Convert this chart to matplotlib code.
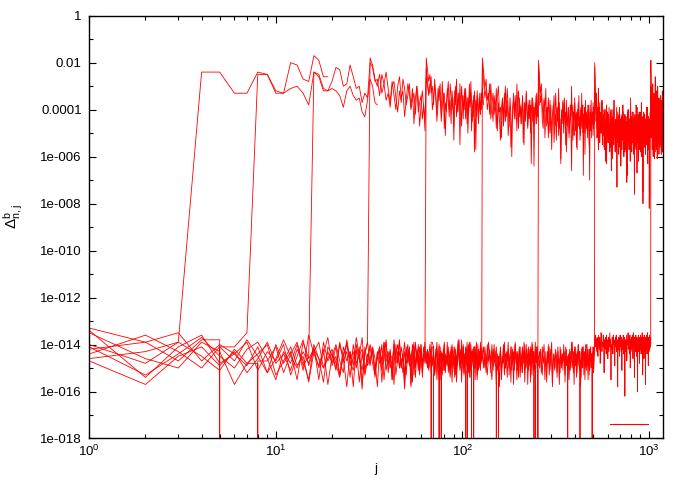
import numpy as np
import matplotlib
matplotlib.use('Agg')
import matplotlib.pyplot as plt
from matplotlib.lines import Line2D
from matplotlib.ticker import FixedLocator, FixedFormatter, NullFormatter

plt.rcParams['font.family'] = ['Liberation Sans', 'DejaVu Sans']
plt.rcParams['mathtext.fontset'] = 'custom'
plt.rcParams['mathtext.rm'] = 'Liberation Sans'
plt.rcParams['mathtext.it'] = 'Liberation Sans:italic'
plt.rcParams['mathtext.bf'] = 'Liberation Sans:bold'

# ---------------- data ----------------
# j sampling grid: (start, stop_exclusive, step)
J_SEGMENTS = [(1, 128, 1), (128, 256, 2), (256, 512, 3), (512, 1024, 3), (1024, 1191, 3)]
LEVELS = [2, 3, 4, 5, 6, 7, 8, 9, 10]          # series n: jump at j = 2**n
HIGH_END = [19, 35, 67, 131, 259, 515, 1027, 1190, 1190]
ZERO = 1000                                     # code for a numerically zero value

# values stored as tenths of -log10(value)
LOW_2 = [140, 148, 139]
LOW_3 = [133, 139, 147, 138, 1000, 141, 135]
LOW_4 = [135, 146, 150, 139, 143, 157, 148, 1000, 147, 141, 152, 144, 139, 149, 145]
LOW_5 = [141, 153, 144, 137, 145, 150, 142, 139, 146, 155,
         143, 148, 140, 151, 136, 144, 149, 142, 157, 145,
         140, 147, 152, 138, 146, 143, 150, 141, 156, 144,
         139]
LOW_6 = [142, 139, 135, 147, 140, 144, 149, 141, 152, 146,
         138, 145, 150, 143, 148, 141, 155, 139, 147, 144,
         151, 140, 146, 158, 143, 149, 137, 145, 142, 153,
         147, 140, 144, 150, 146, 141, 156, 143, 139, 148,
         145, 152, 138, 147, 143, 150, 141, 146, 159, 144,
         140, 149, 145, 142, 153, 139, 147, 144, 151, 143,
         148, 141, 146]
LOW_7 = [134, 154, 141, 136, 148, 144, 139, 151, 143, 147,
         140, 153, 145, 138, 149, 142, 146, 156, 141, 144,
         150, 139, 147, 143, 154, 140, 148, 145, 137, 152,
         144, 149, 141, 146, 158, 142, 147, 139, 151, 145,
         143, 155, 140, 148, 146, 138, 150, 144, 153, 141,
         147, 142, 157, 145, 139, 149, 143, 151, 146, 140,
         154, 144, 148,
         145, 150, 143, 147, 1000, 139, 141, 152, 146, 139,
         148, 155, 143, 149, 144, 151, 142, 150, 147, 146,
         141, 147, 153, 144, 140, 149, 145, 151, 143, 156,
         147, 142, 138, 145, 150, 143, 148, 141, 146, 152,
         1000, 144, 139, 147, 142, 154, 145, 140, 149, 143,
         146, 151, 141, 148, 144, 139, 153, 145, 142, 147,
         150, 143, 146, 141]
LOW_8 = [144, 136, 143, 150, 141, 147, 138, 145, 152, 140,
         148, 143, 155, 139, 146, 142, 150, 144, 137, 149,
         145, 153, 141, 147, 143, 158, 140, 146, 151, 144,
         139, 148, 142, 154, 145, 141, 149, 147, 138, 152,
         144, 146, 157, 140, 148, 143, 150, 145, 139, 153,
         142, 147, 144, 156, 141, 149, 146, 140, 151, 143,
         148, 145, 139,
         147, 142, 150, 144, 148, 141, 1000, 153, 146, 143,
         149, 140, 155, 145, 147, 142, 151, 144, 148, 139,
         152, 146, 143, 150, 145, 141, 149, 154, 144, 147,
         143, 138, 146, 151, 142, 148, 145, 140, 153, 147,
         144, 149, 141, 146, 152, 139, 145, 150, 1000, 143,
         148, 142, 147, 155, 144, 140, 149, 146, 151, 143,
         145, 139, 148, 144,
         146, 141, 150, 144, 148, 139, 145, 152, 143, 147,
         140, 149, 1000, 144, 151, 146, 142, 155, 145, 148,
         141, 150, 143, 147, 139, 153, 144, 146, 149, 142,
         157, 145, 140, 148, 143, 151, 146, 141, 154, 144,
         149, 142, 147, 139, 152, 145, 143, 150, 146, 141,
         148, 144, 156, 142, 147, 140, 151, 145, 149, 1000,
         143, 147, 141, 146]
LOW_9 = [146, 143, 139, 145, 151, 142, 148, 144, 140, 153,
         147, 141, 149, 145, 156, 143, 139, 150, 146, 142,
         148, 154, 144, 140, 147, 151, 143, 145, 159, 141,
         149, 146, 142, 152, 144, 148, 140, 155, 145, 143,
         150, 147, 141, 153, 146, 139, 149, 144, 157, 142,
         148, 145, 151, 140, 146, 154, 143, 149, 141, 147,
         152, 144, 146,
         143, 149, 145, 140, 152, 147, 144, 150, 142, 155,
         146, 1000, 141, 148, 153, 144, 139, 150, 145, 147,
         143, 151, 146, 142, 156, 148, 144, 141, 153, 145,
         149, 140, 147, 143, 150, 138, 146, 152, 144, 148,
         141, 145, 1000, 151, 143, 147, 139, 154, 146, 142,
         149, 144, 150, 141, 147, 145, 153, 140, 148, 143,
         146, 151, 142, 147,
         144, 150, 141, 147, 153, 145, 142, 148, 140, 151,
         146, 143, 157, 145, 1000, 149, 141, 152, 147, 144,
         139, 150, 146, 154, 143, 148, 145, 141, 151, 146,
         143, 149, 140, 147, 155, 144, 150, 142, 146, 152,
         145, 141, 148, 143, 156, 147, 140, 149, 144, 151,
         142, 146, 153, 145, 139, 148, 143, 1000, 150, 144,
         147, 141, 152, 145,
         145, 150, 142, 147, 153, 144, 140, 149, 146, 156,
         143, 148, 141, 151, 145, 139, 154, 147, 144, 150,
         142, 146, 152, 143, 148, 157, 141, 145, 149, 144,
         151, 140, 147, 153, 146, 142, 149, 1000, 145, 155,
         148, 143, 150, 144, 139, 147, 152, 145, 141, 149,
         146, 154, 143, 148, 140, 145, 151, 144, 158, 147,
         142, 149, 145, 141, 153, 146, 143, 150, 144, 148,
         140, 147, 155, 145, 142, 151, 146, 143, 149, 144,
         1000, 148, 141, 152, 145, 143]
LOW_10 = [147, 157, 145, 141, 149, 143, 152, 146, 139, 148,
          144, 151, 142, 147, 155, 140, 146, 150, 143, 148,
          141, 153, 145, 139, 149, 146, 142, 156, 144, 150,
          147, 141, 148, 153, 143, 145, 151, 139, 146, 149,
          142, 155, 147, 144, 140, 150, 146, 152, 143, 148,
          145, 141, 158, 147, 144, 150, 142, 146, 153, 140,
          149, 145, 143,
          148, 144, 151, 146, 141, 149, 143, 153, 145, 142,
          150, 147, 143, 1000, 144, 148, 140, 152, 146, 149,
          143, 145, 154, 141, 147, 150, 144, 148, 142, 151,
          146, 139, 145, 149, 143, 156, 147, 141, 150, 144,
          148, 142, 153, 146, 140, 149, 145, 151, 143, 147,
          144, 1000, 141, 150, 146, 143, 155, 148, 142, 145,
          149, 144, 147, 141,
          143, 149, 145, 152, 140, 147, 144, 150, 155, 142,
          148, 146, 141, 151, 145, 158, 143, 149, 147, 140,
          153, 144, 148, 146, 142, 150, 145, 156, 141, 147,
          144, 151, 139, 146, 149, 143, 154, 145, 141, 148,
          146, 152, 143, 147, 140, 150, 145, 142, 157, 148,
          144, 149, 141, 146, 153, 143, 147, 151, 145, 139,
          148, 144, 150, 1000,
          149, 143, 146, 152, 141, 148, 145, 155, 143, 150,
          147, 140, 153, 146, 142, 149, 158, 144, 147, 151,
          143, 145, 154, 141, 148, 146, 152, 142, 150, 144,
          145, 147, 143, 156, 141, 149, 146, 153, 144, 148,
          142, 151, 145, 139, 147, 150, 143, 157, 146, 141,
          148, 144, 152, 145, 140, 149, 143, 1000, 147, 154,
          145, 141, 150, 146, 143, 148, 155, 144, 140, 151,
          146, 142, 149, 145, 153, 143, 147, 141, 150, 144,
          148, 145, 143, 151, 146, 142,
          139, 136, 141, 138, 143, 137, 140, 145, 136, 139,
          142, 137, 148, 140, 135, 138, 143, 139, 141, 136,
          140, 152, 138, 142, 137, 139, 144, 136, 141, 138,
          146, 140, 137, 143, 139, 135, 141, 138, 155, 140,
          142, 137, 139, 144, 136, 140, 138, 142, 149, 139,
          137, 141, 136, 143, 140, 138, 158, 139, 142, 137,
          140, 145, 138, 136, 141, 139, 143, 137, 151, 140,
          138, 142, 136, 139, 144, 141, 137, 162, 140, 138,
          143, 139, 136, 147, 141, 138, 140, 135, 142, 139,
          137, 144, 140, 136, 150, 138, 141, 143, 137, 139,
          142, 136, 140, 146, 138, 135, 141, 139, 154, 137,
          140, 143, 138, 136, 142, 139, 145, 137, 141, 160,
          138, 140, 136, 143, 139, 137, 148, 141, 138, 142,
          136, 139, 144, 140, 137, 141, 135, 138, 153, 140,
          142, 137, 139, 146, 136, 141, 138, 143, 140, 157,
          137, 139, 142, 136, 140, 144, 138, 135, 141, 139,
          149, 137, 140, 143, 138, 136, 142, 139, 141, 137,
          140]

HIGH_2 = [24, 24, 33, 33, 24, 25, 32, 33, 20, 21, 27, 28, 17, 19, 26, 26]
HIGH_3 = [25, 25, 33, 33, 31, 30, 33, 38, 24, 26,
          32, 32, 31, 32, 34, 39, 32, 30, 34, 36,
          35, 41, 43, 36, 27, 30, 37, 38]
HIGH_4 = [24, 25, 31, 32, 28, 22, 23, 30, 29, 21,
          26, 31, 30, 37, 33, 35, 20, 22, 28, 27,
          34, 25, 29, 36, 33, 39, 30, 28, 35, 41,
          32, 37, 27, 31, 38, 34, 29, 40, 36, 33,
          42, 30, 35, 47, 38, 32, 39, 44,
          26, 30, 33, 29]
HIGH_5 = [18, 21, 27, 30, 25, 33, 29, 24, 31, 37,
          28, 34, 40, 30, 26, 35, 32, 43, 36, 29,
          33, 39, 31, 46, 35, 30, 41, 37, 34, 44,
          38, 49,
          22, 27, 34, 31, 26, 40, 36, 29, 33, 45,
          38, 30, 35, 42, 28, 37, 33, 51, 39, 31,
          36, 43, 29, 34, 40, 35, 47, 32, 38, 27,
          41, 36, 33, 55, 39, 30, 37, 44, 34, 40,
          31, 38, 46, 35, 42, 29, 37, 33, 49, 40,
          36, 43, 32, 38, 57, 41, 34, 39, 45, 37,
          33, 42, 36, 40,
          31, 38]
HIGH_6 = [18, 23, 28, 25, 33, 30, 38, 27, 35, 42,
          31, 36, 29, 45, 39, 33, 48, 37, 41, 34,
          28, 40, 36, 46, 32, 38, 53, 35, 30, 43,
          37, 33, 41, 29, 39, 47, 34, 40, 36, 31,
          44, 38, 35, 50, 42, 33, 39, 28, 37, 45,
          40, 34, 58, 41, 36, 43, 32, 38, 46, 35,
          39, 42, 33, 37,
          21, 28, 35, 31, 40, 36, 29, 44, 38, 33,
          42, 37, 48, 34, 30, 41, 39, 52, 36, 43,
          33, 45, 38, 31, 40, 47, 35, 42, 60, 39,
          36, 44, 34, 41, 49, 37, 32, 43, 38, 46,
          40, 35, 54, 42, 37, 45, 33, 39, 48, 41,
          36, 43, 38, 63, 44, 35, 40, 47, 39, 42,
          34, 46, 41, 37,
          30, 38]
HIGH_7 = [18, 24, 31, 27, 36, 33, 42, 29, 38, 45,
          34, 40, 31, 49, 37, 44, 53, 39, 35, 47,
          41, 30, 43, 36, 51, 45, 39, 56, 46, 42,
          33, 40, 37, 44, 29, 38, 48, 35, 42, 39,
          46, 34, 41, 55, 37, 43, 32, 40, 47, 38,
          44, 36, 50, 41, 35, 45, 39, 64, 42, 37,
          46, 33, 40, 43,
          21, 29, 37, 33, 44, 48, 36, 52, 41, 39,
          46, 35, 43, 50, 38, 57, 45, 40, 34, 47,
          42, 53, 39, 45, 31, 48, 44, 61, 40, 46,
          37, 50, 43, 41, 55, 36, 47, 44, 39, 52,
          45, 40, 48, 66, 42, 38, 46, 51, 35, 44,
          49, 41, 57, 43, 37, 47, 45, 53, 40, 48,
          33, 44, 50, 42, 46, 39, 59, 45, 41, 48,
          43, 52, 38, 46, 44, 70, 41, 49, 36, 47,
          45, 42, 51, 39, 46, 43,
          33, 40]
HIGH_8 = [19, 26, 33, 29, 38, 44, 35, 41, 31, 47,
          39, 52, 43, 36, 49, 45, 42, 38, 54, 46,
          33, 40, 45, 41, 51, 37, 48, 63, 44, 41,
          36, 47, 35, 43, 42, 58, 49, 45, 39, 50,
          46, 38, 43, 30, 47, 53, 41, 44, 37, 49,
          42, 56, 46, 40, 45, 34, 48, 43, 51, 39,
          44, 47, 38, 68, 45, 41, 50, 36, 46, 42,
          49, 43, 40, 47, 55, 44, 38, 46, 42, 52,
          41, 45, 37, 48, 43, 46,
          22, 31, 38, 45, 36, 52, 41, 48, 57, 43,
          39, 54, 47, 42, 44, 50, 37, 53, 46, 49,
          42, 56, 49, 45, 40, 51, 47, 63, 44, 41,
          48, 43, 54, 39, 45, 52, 50, 41, 47, 66,
          43, 53, 46, 40, 55, 48, 36, 51, 45, 58,
          49, 44, 52, 47, 73, 41, 48, 54, 43, 50,
          46, 39, 56, 44, 51, 47, 42, 55, 49, 45,
          53, 38, 48, 44, 60, 46, 51, 42, 57, 47,
          43, 52, 49, 45, 68, 41, 50, 46, 54, 40,
          48, 55, 44, 47, 51, 35, 46, 53, 43, 58,
          49, 45, 52, 41, 47, 56, 44, 50, 76, 46,
          42, 53, 48, 45, 57, 43, 51, 39, 49, 54,
          46, 44, 62, 48, 52, 41, 47, 55, 45, 50,
          43, 58, 46, 37, 53, 49, 44, 51, 48, 80,
          45, 52, 41, 56, 47, 43, 54, 50, 46, 59,
          44, 49, 42, 55, 48, 51, 45, 39, 53, 47,
          50, 43, 57, 46, 82, 48, 44, 52, 41, 49,
          46,
          35, 42]
HIGH_9 = [20, 28, 35, 42, 33, 48, 39, 45, 31, 53,
          44, 37, 50, 46, 41, 47, 36, 55, 43, 51,
          49, 40, 57, 46, 52, 62, 45, 38, 54, 48,
          44, 42, 50, 51, 47, 58, 44, 56, 40, 49,
          46, 53, 61, 48, 43, 41, 55, 50, 45, 52,
          47, 45, 57, 39, 47, 54, 53, 49, 44, 59,
          42, 50, 55, 48, 46, 64, 51, 43, 57, 45,
          52, 47, 41, 54, 49, 56, 44, 58, 46, 50,
          43, 55, 48, 71, 45, 51, 47, 40, 53, 49,
          57, 44, 50, 46, 62, 42, 52, 48, 45, 55,
          41, 49, 54, 47, 51, 44, 59, 46, 50, 43,
          56, 48, 45, 53, 38, 50, 47, 67, 44, 52,
          49, 42, 55, 46, 51, 57, 45, 48, 53, 41,
          50, 47, 44, 60, 49, 54, 46, 52, 43, 75,
          48, 51, 45, 56, 42, 50, 47, 53, 49, 58,
          44, 52, 46, 39, 55, 48, 51, 45, 63, 47,
          53, 43, 50, 57, 46, 49, 78, 44, 52, 48,
          51,
          30, 38, 46, 35, 52, 41, 57, 44, 36, 49,
          60, 43, 51, 39, 55, 47, 42, 50, 58, 45,
          37, 53, 48, 40, 56, 46, 52, 44, 61, 49,
          41, 54, 47, 38, 50, 45, 59, 43, 51, 48,
          36, 55, 46, 42, 53, 49, 44, 57, 40, 50,
          47, 52, 45, 58, 43, 48]
HIGH_10 = [19, 27, 34, 42, 31, 48, 38, 55, 29, 44,
           36, 51, 40, 46, 33, 47, 61, 39, 45, 26,
           53, 41, 35, 49, 57, 32, 43, 37, 50, 44,
           30, 46, 54, 39, 42, 48, 35, 52, 45, 40,
           56, 38, 47, 43, 34, 50, 44, 59, 41, 36,
           49, 45, 32, 53, 42, 47]

LOW = [LOW_2, LOW_3, LOW_4, LOW_5, LOW_6, LOW_7, LOW_8, LOW_9, LOW_10]
HIGH = [HIGH_2, HIGH_3, HIGH_4, HIGH_5, HIGH_6, HIGH_7, HIGH_8, HIGH_9, HIGH_10]

Y_TICK_EXP = [0, -2, -4, -6, -8, -10, -12, -14, -16, -18]
Y_TICK_LABELS = ['1', '0.01', '0.0001', '1e-006', '1e-008', '1e-010',
                 '1e-012', '1e-014', '1e-016', '1e-018']
Y_MINOR_EXP = [-1, -3, -5, -7, -9, -11, -13, -15, -17]
X_TICKS = [1, 10, 100, 1000]
X_TICK_LABELS = ['$10^{0}$', '$10^{1}$', '$10^{2}$', '$10^{3}$']
X_LIMITS = (1, 1190)
Y_LIMITS = (1e-18, 1)

# ---------------- plot ----------------
grid = np.concatenate([np.arange(a, b, s) for a, b, s in J_SEGMENTS])


def jpos(a, b):
    return grid[(grid >= a) & (grid <= b)]


def build_path(j, v):
    """A zero value is drawn as a vertical drop at its own j."""
    xs, ys = [], []
    for i in range(len(j)):
        if v[i] >= ZERO:
            xs += [j[i], j[i], j[i]]
            ys += [v[i - 1], v[i], v[i + 1]]
        else:
            xs.append(j[i])
            ys.append(v[i])
    return np.asarray(xs, float), 10.0 ** (-np.asarray(ys, float) / 10.0)


fig = plt.figure(figsize=(6.88, 4.82), dpi=100)
ax = fig.add_axes([0.1298, 0.0903, 0.8339, 0.8771])

red = '#ff0000'
for n, lo, hi, end in zip(LEVELS, LOW, HIGH, HIGH_END):
    jl, jh = jpos(1, 2 ** n - 1), jpos(2 ** n, end)
    if len(jl) != len(lo) or len(jh) != len(hi):
        raise ValueError(f"series {n}: {len(jl)} vs {len(lo)}, {len(jh)} vs {len(hi)}")
    x, y = build_path(np.concatenate([jl, jh]), list(lo) + list(hi))
    ax.plot(x, y, color=red, lw=0.6)

ax.set_xscale('log')
ax.set_yscale('log')
ax.set_xlim(*X_LIMITS)
ax.set_ylim(*Y_LIMITS)

ax.yaxis.set_major_locator(FixedLocator([10.0 ** e for e in Y_TICK_EXP]))
ax.yaxis.set_major_formatter(FixedFormatter(Y_TICK_LABELS))
ax.yaxis.set_minor_locator(FixedLocator([10.0 ** e for e in Y_MINOR_EXP]))
ax.yaxis.set_minor_formatter(NullFormatter())

ax.xaxis.set_major_locator(FixedLocator(X_TICKS))
ax.xaxis.set_major_formatter(FixedFormatter(X_TICK_LABELS))
xminor = [m * 10 ** d for d in range(3) for m in range(2, 10)]
ax.xaxis.set_minor_locator(FixedLocator(xminor))
ax.xaxis.set_minor_formatter(NullFormatter())

ax.tick_params(which='both', direction='in', top=True, right=True,
               width=0.8, colors='black', labelsize=9.5)
ax.tick_params(which='major', length=4.8)
ax.tick_params(which='minor', length=2.6)
ax.tick_params(axis='y', which='major', pad=5.5)
ax.tick_params(axis='x', which='major', pad=4)
for s in ax.spines.values():
    s.set_linewidth(1.0)

ax.set_xlabel('j', fontsize=9.5)
ax.xaxis.set_label_coords(0.5, -0.058)
ax.set_ylabel(r'$\Delta^{\mathrm{b}}_{\mathrm{n,j}}$', fontsize=11)
ax.yaxis.set_label_coords(-0.112, 0.524)

key = Line2D([], [], color=red, lw=0.8)
ax.legend(handles=[key], labels=[' '], loc='center left',
          bbox_to_anchor=(0.907, 0.0296), frameon=False, borderpad=0,
          borderaxespad=0, handlelength=2.9, handletextpad=0, fontsize=9.5)

fig.savefig('out.png', dpi=100)
